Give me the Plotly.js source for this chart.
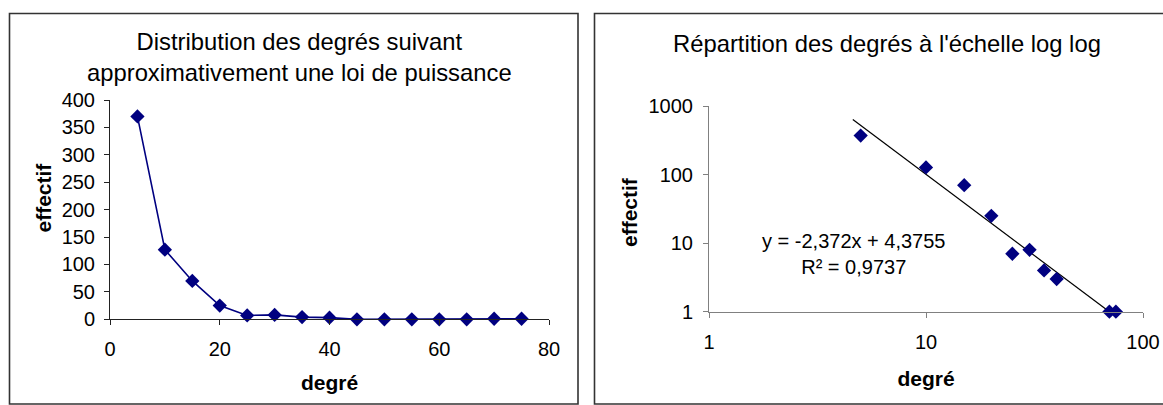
<!DOCTYPE html>
<html>
<head>
<meta charset="utf-8">
<script src="https://cdn.plot.ly/plotly-3.0.1.min.js"></script>
<style>
  html, body { margin: 0; padding: 0; background: #ffffff; }
  #chart { width: 1163px; height: 405px; }
</style>
</head>
<body>
<div id="chart"></div>
<script>
// ---- Data ----
const degres = [5, 10, 15, 20, 25, 30, 35, 40, 45, 50, 55, 60, 65, 70, 75];
const effectifs = [370, 127, 70, 25, 7, 8, 4, 3, 0, 0, 0, 0, 0, 1, 1];

const leftTitle = "Distribution des degrés suivant<br>approximativement une loi de puissance";
const rightTitle = "Répartition des degrés à l'échelle log log";
const xLabel = "degré";
const yLabel = "effectif";

const leftXTicks = [0, 20, 40, 60, 80];
const leftYTicks = [0, 50, 100, 150, 200, 250, 300, 350, 400];
const logXTicks = [1, 10, 100];
const logYTicks = [1, 10, 100, 1000];

// Trend line shown on the log-log chart (log10 effectif = a * log10 degré + b)
const trendSlope = -2.372;
const trendIntercept = 4.3755;
const trendEquation = "y = -2,372x + 4,3755";
const trendR2 = "R² = 0,9737";
const trendXEnds = [4.6, 70];

// ---- Derived ----
const logDeg = [], logEff = [];
degres.forEach((d, i) => { if (effectifs[i] > 0) { logDeg.push(d); logEff.push(effectifs[i]); } });
const trendY = trendXEnds.map(x => Math.pow(10, trendSlope * Math.log10(x) + trendIntercept));

const W = 1163, H = 405;
const px = v => v / W;
const py = v => 1 - v / H;

const FONT = "Liberation Sans, Arial, sans-serif";
const navy = "#000080";

const traces = [
  {
    x: degres, y: effectifs, type: "scatter", mode: "lines+markers",
    line: { color: navy, width: 1.6 },
    marker: { symbol: "diamond", size: 11, color: navy },
    xaxis: "x", yaxis: "y", showlegend: false, cliponaxis: false
  },
  {
    x: trendXEnds, y: trendY, type: "scatter", mode: "lines",
    line: { color: "#000000", width: 1.2 },
    xaxis: "x2", yaxis: "y2", showlegend: false
  },
  {
    x: logDeg, y: logEff, type: "scatter", mode: "markers",
    marker: { symbol: "diamond", size: 11, color: navy },
    xaxis: "x2", yaxis: "y2", showlegend: false, cliponaxis: false
  }
];

const axisCommon = {
  showgrid: false, zeroline: false, showline: true,
  ticks: "outside", ticklen: 5, tickwidth: 1,
  tickfont: { family: FONT, size: 20, color: "#000" },
  fixedrange: true, automargin: false
};
const titleFont = { family: FONT, size: 21, color: "#000" };

const layout = {
  width: W, height: H,
  margin: { l: 0, r: 0, t: 0, b: 0 },
  paper_bgcolor: "#ffffff", plot_bgcolor: "rgba(0,0,0,0)",
  showlegend: false,
  xaxis: Object.assign({}, axisCommon, {
    domain: [px(110), px(549)], range: [0, 80],
    tickmode: "array", tickvals: leftXTicks,
    linecolor: "#222", tickcolor: "#222", ticklabelstandoff: 7,
    anchor: "y",
    title: { text: "<b>" + xLabel + "</b>", font: titleFont, standoff: 16 }
  }),
  yaxis: Object.assign({}, axisCommon, {
    domain: [py(319.3), py(100)], range: [0, 400],
    tickmode: "array", tickvals: leftYTicks,
    linecolor: "#222", tickcolor: "#222", ticklabelstandoff: 5,
    anchor: "x"
  }),
  xaxis2: Object.assign({}, axisCommon, {
    domain: [px(709), px(1143)], type: "log", range: [0, 2],
    tickmode: "array", tickvals: logXTicks, ticktext: logXTicks.map(String),
    linecolor: "#808080", tickcolor: "#808080", ticklabelstandoff: 7,
    anchor: "y2",
    title: { text: "<b>" + xLabel + "</b>", font: titleFont, standoff: 19 }
  }),
  yaxis2: Object.assign({}, axisCommon, {
    domain: [py(311.7), py(106)], type: "log", range: [0, 3],
    tickmode: "array", tickvals: logYTicks, ticktext: logYTicks.map(String),
    linecolor: "#808080", tickcolor: "#808080", ticklabelstandoff: 6,
    anchor: "x2"
  }),
  shapes: [
    { type: "rect", xref: "paper", yref: "paper", x0: px(9.5), x1: px(578), y0: py(404), y1: py(13.5),
      line: { color: "#333", width: 1.6 }, fillcolor: "rgba(0,0,0,0)" },
    { type: "rect", xref: "paper", yref: "paper", x0: px(594.5), x1: px(1180), y0: py(404), y1: py(13.5),
      line: { color: "#333", width: 1.6 }, fillcolor: "rgba(0,0,0,0)" }
  ],
  annotations: [
    { text: leftTitle, xref: "paper", yref: "paper", x: px(299), y: py(57), xanchor: "center", yanchor: "middle",
      showarrow: false, font: { family: FONT, size: 23.8, color: "#000" } },
    { text: rightTitle, xref: "paper", yref: "paper", x: px(887), y: py(43), xanchor: "center", yanchor: "middle",
      showarrow: false, font: { family: FONT, size: 23.8, color: "#000" } },
    { text: trendEquation + "<br>" + trendR2, xref: "paper", yref: "paper", x: px(853), y: py(254), xanchor: "center", yanchor: "middle",
      showarrow: false, align: "center", font: { family: FONT, size: 20, color: "#000" } },
    { text: "<b>" + yLabel + "</b>", xref: "paper", yref: "paper", x: px(42.5), y: py(198), textangle: -90,
      xanchor: "center", yanchor: "middle", showarrow: false, font: titleFont },
    { text: "<b>" + yLabel + "</b>", xref: "paper", yref: "paper", x: px(629), y: py(212), textangle: -90,
      xanchor: "center", yanchor: "middle", showarrow: false, font: titleFont }
  ]
};

Plotly.newPlot("chart", traces, layout, { displayModeBar: false, staticPlot: true });
</script>
</body>
</html>
